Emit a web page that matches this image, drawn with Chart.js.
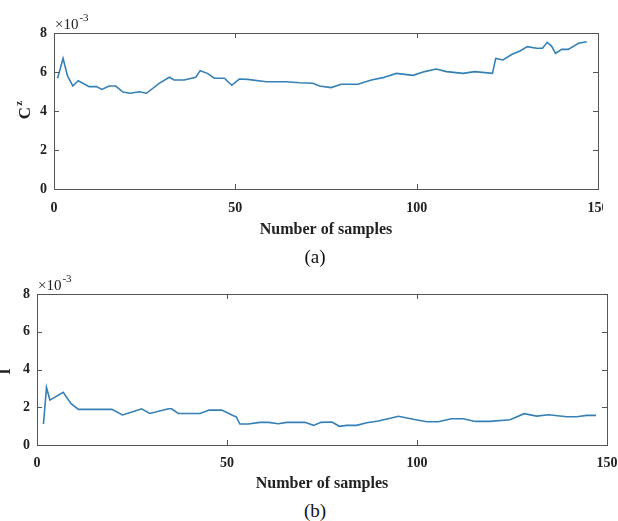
<!DOCTYPE html>
<html>
<head>
<meta charset="utf-8">
<script src="https://cdn.jsdelivr.net/npm/chart.js@4/dist/chart.umd.min.js"></script>
<style>
  body { margin: 0; background: #fff; width: 618px; height: 521px; position: relative; overflow: hidden; }
  canvas { position: absolute; }
  #topChart { left: 0; top: 0; }
  #bottomChart { left: 0; top: 260px; }
  .cap { position: absolute; width: 618px; left: 6px; text-align: center;
         font-family: "Liberation Serif", serif; font-size: 19px; color: #111; }
</style>
</head>
<body>
<canvas id="topChart" width="603" height="245"></canvas>
<canvas id="bottomChart" width="618" height="240"></canvas>
<div class="cap" style="top:246px">(a)</div>
<div class="cap" style="top:500px">(b)</div>
<script>
// values in units of 10^-3
const samplesA = [1, 2.5, 3.7, 5.2, 6.7, 9.7, 11.7, 13.2, 15.2, 17, 19, 21, 23.5, 25.5, 29, 31.8, 33.1, 35.9, 39.1, 40.3,
  42.3, 44.2, 47, 49, 51.1, 53.4, 58.5, 64, 67.7, 71.4, 73.2, 76.4, 79.2, 83.8, 87.5, 90.7, 94.4, 99, 102.2, 105.4,
  108.2, 112.8, 116, 120.9, 121.8, 123.8, 126.2, 128.5, 130.5, 133.1, 134.7, 136, 137.2, 138.3, 140, 141.8, 144.6, 146.9];
const cz = [5.68, 6.7, 5.81, 5.28, 5.55, 5.25, 5.25, 5.11, 5.28, 5.28, 4.97, 4.91, 4.99, 4.91, 5.42, 5.73, 5.59, 5.59, 5.73, 6.07,
  5.93, 5.68, 5.68, 5.32, 5.64, 5.62, 5.5, 5.5, 5.45, 5.42, 5.28, 5.2, 5.37, 5.37, 5.59, 5.71, 5.93, 5.83, 6.02, 6.15,
  6.02, 5.93, 6.02, 5.93, 6.7, 6.62, 6.9, 7.08, 7.3, 7.22, 7.22, 7.52, 7.33, 6.96, 7.16, 7.16, 7.47, 7.55];

const samplesB = [1.7, 2.5, 3.4, 6.9, 8.9, 10.9, 19.7, 22.5, 25.2, 27.5, 29.7, 34.6, 35.4, 37.2, 42.9, 45.3, 48.6, 51.7, 52.4, 53.4,
  55.6, 58.7, 60.9, 63.5, 65.7, 70.5, 72.8, 74.7, 77.6, 79.6, 81.5, 84.1, 86.8, 89.8, 92.4, 95.1, 99, 102.6, 105.6, 109.1,
  112.2, 115.3, 119.2, 124.5, 128.2, 131.5, 134.6, 139.4, 142, 144.7, 147.1];
const iVals = [1.11, 3.05, 2.38, 2.79, 2.2, 1.89, 1.89, 1.59, 1.76, 1.92, 1.67, 1.92, 1.92, 1.67, 1.67, 1.85, 1.85, 1.55, 1.5, 1.11,
  1.11, 1.2, 1.2, 1.13, 1.2, 1.2, 1.04, 1.2, 1.22, 0.99, 1.04, 1.04, 1.18, 1.27, 1.39, 1.52, 1.36, 1.23, 1.23, 1.39,
  1.39, 1.25, 1.25, 1.34, 1.66, 1.53, 1.6, 1.5, 1.5, 1.57, 1.57];

const xTicks = [0, 50, 100, 150];
const yTicks = [0, 2, 4, 6, 8];

const serif = "'Liberation Serif', 'Times New Roman', serif";
const lineColor = "#3580b6";

// matlab style box with inward ticks, exponent label and y label
const boxPlugin = {
  id: "matlabBox",
  afterDraw(chart, args, opts) {
    const { ctx, chartArea: a, scales } = chart;
    ctx.save();
    ctx.strokeStyle = "#555";
    ctx.lineWidth = 1;
    ctx.strokeRect(a.left + 0.5, a.top + 0.5, a.right - a.left, a.bottom - a.top);
    ctx.beginPath();
    xTicks.forEach((t) => {
      const px = Math.round(scales.x.getPixelForValue(t)) + 0.5;
      ctx.moveTo(px, a.bottom); ctx.lineTo(px, a.bottom - 5);
      ctx.moveTo(px, a.top); ctx.lineTo(px, a.top + 5);
    });
    yTicks.forEach((t) => {
      const py = Math.round(scales.y.getPixelForValue(t)) + 0.5;
      ctx.moveTo(a.left, py); ctx.lineTo(a.left + 5, py);
      ctx.moveTo(a.right, py); ctx.lineTo(a.right - 5, py);
    });
    ctx.stroke();

    // x10^-3
    ctx.fillStyle = "#222";
    ctx.textBaseline = "alphabetic";
    ctx.font = "15px " + serif;
    ctx.fillText("\u00d710", opts.expX, opts.expY);
    const w = ctx.measureText("\u00d710").width;
    ctx.font = "11px " + serif;
    ctx.fillText("-3", opts.expX + w + 1, opts.expY - 8);

    // y title
    ctx.translate(opts.yTitleX, (a.top + a.bottom) / 2 + 2);
    ctx.rotate(-Math.PI / 2);
    ctx.textAlign = "center";
    ctx.textBaseline = "middle";
    ctx.font = "bold 17px " + serif;
    ctx.fillText(opts.yTitle, 0, 0);
    if (opts.ySup) {
      const tw = ctx.measureText(opts.yTitle).width;
      ctx.textAlign = "left";
      ctx.font = "bold 11px " + serif;
      ctx.fillText(opts.ySup, tw / 2 + 1, -7);
    }
    ctx.restore();
  },
};

function makeChart(id, xs, ys, lay) {
  const ctx = document.getElementById(id).getContext("2d");
  return new Chart(ctx, {
    type: "line",
    data: {
      datasets: [{
        data: xs.map((x, i) => ({ x: x, y: ys[i] })),
        borderColor: lineColor,
        borderWidth: 1.6,
        pointRadius: 0,
        tension: 0,
        fill: false,
      }],
    },
    options: {
      responsive: false,
      animation: false,
      events: [],
      layout: { padding: { left: 0, right: lay.padRight, top: lay.padTop, bottom: 0 } },
      plugins: {
        legend: { display: false },
        tooltip: { enabled: false },
        matlabBox: lay.box,
      },
      scales: {
        x: {
          type: "linear",
          min: 0,
          max: 150,
          afterBuildTicks: (s) => { s.ticks = xTicks.map((v) => ({ value: v })); },
          afterFit: (s) => { s.height = lay.xHeight; s.paddingLeft = 0; s.paddingRight = 0; },
          grid: { display: false, drawTicks: false },
          border: { display: false },
          ticks: { padding: lay.xTickPad, color: "#222", font: { family: serif, size: 14, weight: "bold" }, maxRotation: 0 },
          title: { display: true, text: "Number of samples", color: "#222", padding: { top: 0, bottom: lay.titlePad },
                   font: { family: serif, size: 16, weight: "bold" } },
        },
        y: {
          type: "linear",
          min: 0,
          max: 8,
          afterBuildTicks: (s) => { s.ticks = yTicks.map((v) => ({ value: v })); },
          afterFit: (s) => { s.width = lay.yWidth; s.paddingTop = 0; s.paddingBottom = 0; },
          grid: { display: false, drawTicks: false },
          border: { display: false },
          ticks: { padding: 7, color: "#222", font: { family: serif, size: 14, weight: "bold" } },
        },
      },
    },
    plugins: [boxPlugin],
  });
}

makeChart("topChart", samplesA, cz, {
  padRight: 5, padTop: 33, xHeight: 56, yWidth: 54, xTickPad: 11, titlePad: 6,
  box: { expX: 55, expY: 29, yTitle: "C", ySup: "z", yTitleX: 26 },
});

makeChart("bottomChart", samplesB, iVals, {
  padRight: 11, padTop: 34, xHeight: 55, yWidth: 37, xTickPad: 10, titlePad: 7,
  box: { expX: 38, expY: 30, yTitle: "I", ySup: "", yTitleX: 6 },
});
</script>
</body>
</html>
